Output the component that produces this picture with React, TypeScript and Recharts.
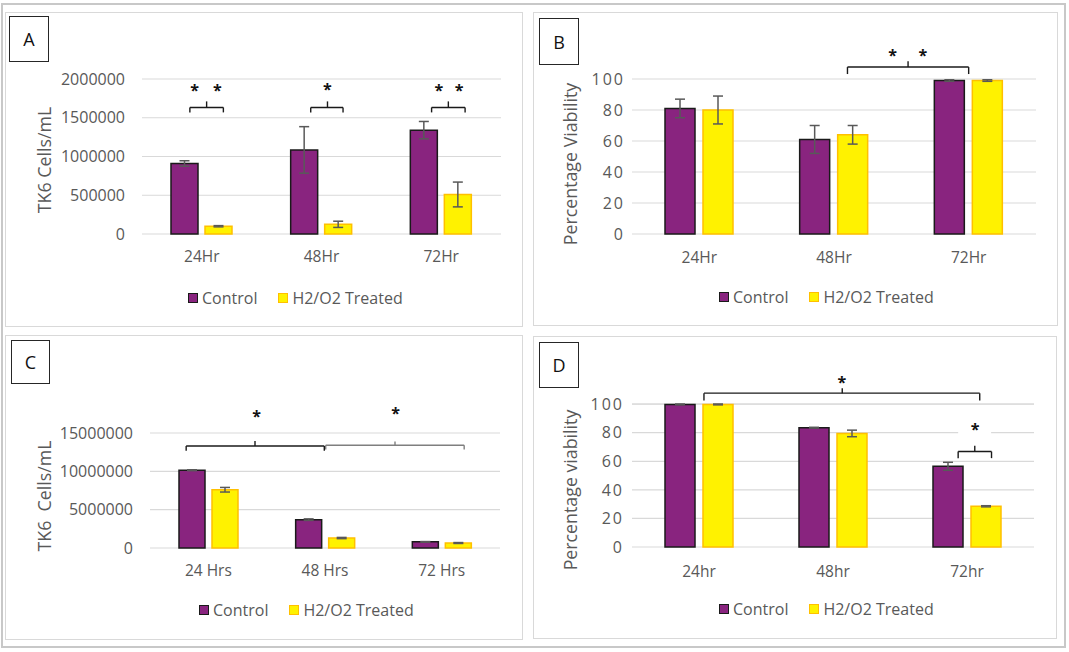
import React from 'react';
import {
    BarChart,
    Bar,
    XAxis,
    YAxis,
    CartesianGrid,
    ErrorBar,
    Legend,
    ReferenceLine,
    ReferenceDot,
    ReferenceArea,
} from 'recharts';

const FONT = '"Open Sans", sans-serif';
const TEXT = '#595959';

const seriesNames = ['Control', 'H2/O2 Treated'];

// A - cell counts
const hoursA = ['24Hr', '48Hr', '72Hr'];
const controlA = [910000, 1085000, 1340000];
const controlErrA = [35000, 300000, 112000];
const treatedA = [100000, 125000, 510000];
const treatedErrA = [8000, 40000, 160000];
const ticksA = [0, 500000, 1000000, 1500000, 2000000];
const bracketsA = [
    { from: 0.4, to: 0.68, mid: 0.54, y: 1633000, foot: 1569000, tip: 1711000 },
    { from: 1.41, to: 1.68, mid: 1.55, y: 1633000, foot: 1569000, tip: 1711000 },
    { from: 2.42, to: 2.7, mid: 2.56, y: 1633000, foot: 1569000, tip: 1711000 },
];
const starsA = [
    { x: 0.44, y: 1890000 },
    { x: 0.63, y: 1890000 },
    { x: 1.55, y: 1900000 },
    { x: 2.48, y: 1890000 },
    { x: 2.65, y: 1890000 },
];

// B - viability
const hoursB = ['24Hr', '48Hr', '72Hr'];
const controlB = [81, 61, 99];
const controlErrB = [6, 9, 0.5];
const treatedB = [80, 64, 99];
const treatedErrB = [9, 6, 0.5];
const ticksB = [0, 20, 40, 60, 80, 100];
const bracketsB = [
    { from: 1.6, to: 2.5, mid: 2.05, y: 107.7, foot: 103.2, tip: 111.4 },
];
const starsB = [
    { x: 1.935, y: 116.8 },
    { x: 2.16, y: 116.8 },
];

// C - cell counts, second run
const hoursC = ['24 Hrs', '48 Hrs', '72 Hrs'];
const controlC = [10150000, 3700000, 800000];
const controlErrC = [60000, 100000, 40000];
const treatedC = [7600000, 1300000, 650000];
const treatedErrC = [300000, 80000, 60000];
const ticksC = [0, 5000000, 10000000, 15000000];
const bracketsC = [
    { from: 0.31, to: 1.494, mid: 0.9, y: 13310000, foot: 12690000, tip: 13960000 },
    { from: 1.506, to: 2.693, mid: 2.1, y: 13400000, foot: 12860000, tip: 13900000, color: '#7f7f7f' },
];
const starsC = [
    { x: 0.914, y: 17520000 },
    { x: 2.105, y: 17950000 },
];

// D - viability, second run
const hoursD = ['24hr', '48hr', '72hr'];
const controlD = [99.8, 83.5, 56.5];
const controlErrD = [0.3, 0.3, 2.8];
const treatedD = [99.8, 79.5, 28.5];
const treatedErrD = [0.3, 2.3, 0.4];
const ticksD = [0, 20, 40, 60, 80, 100];
const bracketsD = [
    { from: 0.537, to: 2.595, mid: 1.569, y: 107.7, foot: 102.5, tip: 111.2 },
    { from: 2.434, to: 2.683, mid: 2.558, y: 66.8, foot: 62.2, tip: 70.8 },
];
const starsD = [
    { x: 1.567, y: 117 },
    { x: 2.56, y: 84.3 },
];
const masksD = [{ x1: 2.434, x2: 2.68, y1: 77.3, y2: 89 }];

const swatches = [
    { fill: '#89247F', stroke: '#1a1a1a' },
    { fill: '#FFF200', stroke: '#FFC000' },
];

function LegendRow() {
    return (
        <div
            style={{
                display: 'flex',
                alignItems: 'center',
                height: 22,
                fontFamily: FONT,
                fontSize: 16,
                color: TEXT,
                whiteSpace: 'nowrap',
            }}
        >
            {seriesNames.map((name, i) => (
                <div key={name} style={{ display: 'flex', alignItems: 'center', marginRight: i === 0 ? 21 : 0 }}>
                    <span
                        style={{
                            display: 'inline-block',
                            width: 8,
                            height: 8,
                            background: swatches[i].fill,
                            border: `1.5px solid ${swatches[i].stroke}`,
                            marginRight: 4,
                        }}
                    />
                    <span>{name}</span>
                </div>
            ))}
        </div>
    );
}

function Panel({ cfg, categories, control, controlErr, treated, treatedErr, ticks, yTitle, brackets, stars, masks = [] }) {
    // slot = centre of each category in 0..n units, used by the hidden position axis
    const data = categories.map((c, i) => ({
        name: c,
        slot: i + 0.5,
        control: control[i],
        controlErr: controlErr[i],
        treated: treated[i],
        treatedErr: treatedErr[i],
    }));
    const { box, letter, margin } = cfg;

    return (
        <>
            <div
                style={{
                    position: 'absolute',
                    left: box.left,
                    top: box.top,
                    width: box.width,
                    height: box.height,
                    border: '1.5px solid #d9d9d9',
                    boxSizing: 'border-box',
                }}
            />
            <div style={{ position: 'absolute', left: box.left, top: box.top }}>
                <BarChart
                    width={box.width}
                    height={box.height}
                    data={data}
                    margin={margin}
                    barSize={cfg.barSize}
                    barGap={cfg.barGap}
                >
                    <CartesianGrid vertical={false} stroke="#d9d9d9" strokeWidth={1.2} />
                    <XAxis
                        dataKey="name"
                        axisLine={false}
                        tickLine={false}
                        tickSize={0}
                        tickMargin={cfg.xTickMargin}
                        height={30}
                        interval={0}
                        tick={{ fill: TEXT, fontSize: 15.5, fontFamily: FONT }}
                    />
                    <XAxis
                        xAxisId="pos"
                        dataKey="slot"
                        type="number"
                        domain={[0, categories.length]}
                        allowDataOverflow
                        hide
                    />
                    <YAxis
                        width={cfg.yWidth}
                        domain={[0, ticks[ticks.length - 1]]}
                        ticks={ticks}
                        interval={0}
                        axisLine={false}
                        tickLine={false}
                        tickSize={0}
                        tickMargin={cfg.yTickMargin}
                        tick={{ fill: TEXT, fontSize: 16, fontFamily: FONT, letterSpacing: cfg.yLetterSpacing }}
                        label={() => (
                            <text
                                x={cfg.title.x}
                                y={cfg.title.y}
                                transform={`rotate(-90 ${cfg.title.x} ${cfg.title.y})`}
                                textAnchor="middle"
                                dominantBaseline="central"
                                fill={TEXT}
                                fontSize={17.8}
                                fontFamily={FONT}
                                style={{ whiteSpace: 'pre' }}
                            >
                                {yTitle}
                            </text>
                        )}
                    />
                    <Legend
                        layout="horizontal"
                        verticalAlign="middle"
                        align="center"
                        wrapperStyle={{ top: cfg.legendTop, left: cfg.legendLeft, width: 'auto', height: 22 }}
                        content={() => <LegendRow />}
                    />
                    {masks.map((m, i) => (
                        <ReferenceArea
                            key={`m${i}`}
                            xAxisId="pos"
                            x1={m.x1}
                            x2={m.x2}
                            y1={m.y1}
                            y2={m.y2}
                            fill="#ffffff"
                            fillOpacity={1}
                            stroke="none"
                            ifOverflow="visible"
                        />
                    ))}
                    <Bar
                        dataKey="control"
                        name={seriesNames[0]}
                        fill={swatches[0].fill}
                        stroke={swatches[0].stroke}
                        strokeWidth={1.5}
                        isAnimationActive={false}
                    >
                        <ErrorBar dataKey="controlErr" width={5} stroke={TEXT} strokeWidth={1.5} isAnimationActive={false} />
                    </Bar>
                    <Bar
                        dataKey="treated"
                        name={seriesNames[1]}
                        fill={swatches[1].fill}
                        stroke={swatches[1].stroke}
                        strokeWidth={1.5}
                        isAnimationActive={false}
                    >
                        <ErrorBar dataKey="treatedErr" width={5} stroke={TEXT} strokeWidth={1.5} isAnimationActive={false} />
                    </Bar>
                    {brackets.flatMap((b, i) => {
                        const color = b.color || '#1a1a1a';
                        const segs = [
                            [{ x: b.from, y: b.y }, { x: b.to, y: b.y }],
                            [{ x: b.from, y: b.y }, { x: b.from, y: b.foot }],
                            [{ x: b.to, y: b.y }, { x: b.to, y: b.foot }],
                            [{ x: b.mid, y: b.y }, { x: b.mid, y: b.tip }],
                        ];
                        return segs.map((s, j) => (
                            <ReferenceLine
                                key={`b${i}-${j}`}
                                xAxisId="pos"
                                segment={s}
                                stroke={color}
                                strokeWidth={1.4}
                                ifOverflow="visible"
                            />
                        ));
                    })}
                    {stars.map((s, i) => (
                        <ReferenceDot
                            key={`s${i}`}
                            xAxisId="pos"
                            x={s.x}
                            y={s.y}
                            r={0}
                            ifOverflow="visible"
                            shape={(p) => (
                                <text
                                    x={p.cx}
                                    y={p.cy + 8.5}
                                    textAnchor="middle"
                                    fontSize={16}
                                    fontWeight="bold"
                                    fontFamily={FONT}
                                    fill="#111"
                                >
                                    *
                                </text>
                            )}
                        />
                    ))}
                </BarChart>
            </div>
            <div
                style={{
                    position: 'absolute',
                    left: letter.left,
                    top: letter.top,
                    width: letter.width,
                    height: letter.height,
                    border: '1.5px solid #262626',
                    boxSizing: 'border-box',
                    display: 'flex',
                    alignItems: 'center',
                    justifyContent: 'center',
                    fontFamily: FONT,
                    fontSize: 18,
                    color: '#111',
                    background: '#fff',
                }}
            >
                {letter.text}
            </div>
        </>
    );
}

const layoutA = {
    box: { left: 5, top: 12, width: 518, height: 315 },
    letter: { left: 9, top: 16, width: 40, height: 46, text: 'A' },
    margin: { top: 67, right: 22, bottom: 63, left: 0 },
    yWidth: 137,
    yTickMargin: 17,
    yLetterSpacing: 0,
    xTickMargin: 17,
    barSize: 27,
    barGap: 7,
    legendTop: 275,
    legendLeft: 183,
    title: { x: 39, y: 148 },
};

const layoutB = {
    box: { left: 533, top: 12, width: 525, height: 314 },
    letter: { left: 539, top: 18, width: 40, height: 47, text: 'B' },
    margin: { top: 67, right: 22, bottom: 62, left: 0 },
    yWidth: 99,
    yTickMargin: 7,
    yLetterSpacing: 2,
    xTickMargin: 18,
    barSize: 30,
    barGap: 8,
    legendTop: 274,
    legendLeft: 186,
    title: { x: 37, y: 152 },
};

const layoutC = {
    box: { left: 5, top: 335, width: 518, height: 305 },
    letter: { left: 11, top: 340, width: 39, height: 44, text: 'C' },
    margin: { top: 98, right: 23, bottom: 62, left: 0 },
    yWidth: 145,
    yTickMargin: 17,
    yLetterSpacing: 0,
    xTickMargin: 17,
    barSize: 26,
    barGap: 7,
    legendTop: 264,
    legendLeft: 194,
    title: { x: 39, y: 161 },
};

const layoutD = {
    box: { left: 533, top: 336, width: 524, height: 303 },
    letter: { left: 539, top: 342, width: 40, height: 46, text: 'D' },
    margin: { top: 68, right: 23, bottom: 62, left: 0 },
    yWidth: 99,
    yTickMargin: 8,
    yLetterSpacing: 2,
    xTickMargin: 19,
    barSize: 30,
    barGap: 8,
    legendTop: 262,
    legendLeft: 186,
    title: { x: 37, y: 154 },
};

export default function App() {
    return (
        <div
            style={{
                position: 'absolute',
                left: 0,
                top: 0,
                width: 1069,
                height: 652,
                background: '#fff',
                fontFamily: FONT,
            }}
        >
            <div
                style={{
                    position: 'absolute',
                    left: 1,
                    top: 3,
                    width: 1065,
                    height: 645,
                    border: '2px solid #c8c8c8',
                    boxSizing: 'border-box',
                }}
            />
            <Panel
                cfg={layoutA}
                categories={hoursA}
                control={controlA}
                controlErr={controlErrA}
                treated={treatedA}
                treatedErr={treatedErrA}
                ticks={ticksA}
                yTitle="TK6 Cells/mL"
                brackets={bracketsA}
                stars={starsA}
            />
            <Panel
                cfg={layoutB}
                categories={hoursB}
                control={controlB}
                controlErr={controlErrB}
                treated={treatedB}
                treatedErr={treatedErrB}
                ticks={ticksB}
                yTitle="Percentage Viability"
                brackets={bracketsB}
                stars={starsB}
            />
            <Panel
                cfg={layoutC}
                categories={hoursC}
                control={controlC}
                controlErr={controlErrC}
                treated={treatedC}
                treatedErr={treatedErrC}
                ticks={ticksC}
                yTitle="TK6  Cells/mL"
                brackets={bracketsC}
                stars={starsC}
            />
            <Panel
                cfg={layoutD}
                categories={hoursD}
                control={controlD}
                controlErr={controlErrD}
                treated={treatedD}
                treatedErr={treatedErrD}
                ticks={ticksD}
                yTitle="Percentage viability"
                brackets={bracketsD}
                stars={starsD}
                masks={masksD}
            />
        </div>
    );
}
